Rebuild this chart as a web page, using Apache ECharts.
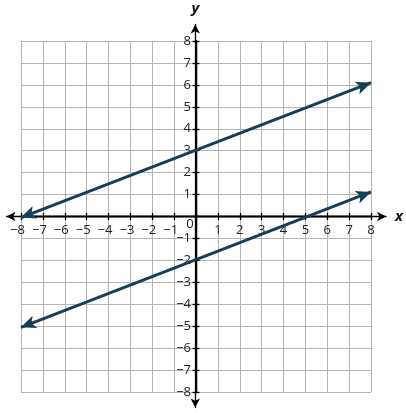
<!DOCTYPE html>
<html>
<head>
<meta charset="utf-8">
<script src="https://cdn.jsdelivr.net/npm/echarts@6/dist/echarts.min.js"></script>
<style>html,body{margin:0;padding:0;background:#fff}#c{width:406px;height:413px}</style>
</head>
<body>
<div id="c"></div>
<script>
// Data (arrow tip to arrow tip of each line)
var lineA = [[-8, -0.05], [8, 6.1]];
var lineB = [[-8, -5.05], [8, 1.12]];
var xTicksMin = -8, xTicksMax = 8;
var yTicksMin = -8, yTicksMax = 8;
var axisNames = ['x', 'y'];

var LINE_COLOR = '#163e57';
var FONT = '"Open Sans", "Noto Sans", sans-serif';

function xFmt(v) {
  if (v === 0) return '{z|0}';
  if (v < 0) return '{n|\u2212' + (-v) + '}';
  return String(v);
}
function yFmt(v) {
  if (v === 0) return '';
  if (v < 0) return '\u2212' + (-v);
  return String(v);
}

var chart = echarts.init(document.getElementById('c'), null, {renderer: 'canvas'});

function arrowLine(pts) {
  return {
    type: 'line',
    xAxisIndex: 0, yAxisIndex: 0,
    data: [],
    silent: true,
    markLine: {
      silent: true,
      animation: false,
      symbol: ['arrow', 'arrow'],
      symbolSize: [10, 15],
      label: {show: false},
      lineStyle: {color: LINE_COLOR, width: 3, type: 'solid', opacity: 1},
      emphasis: {disabled: true},
      data: [[{coord: pts[0]}, {coord: pts[1]}]]
    }
  };
}

// layout (pixels)
var G1 = {left: 21, right: 35, top: 41, bottom: 21};
var W = 406, H = 413;
var gw = W - G1.left - G1.right, gh = H - G1.top - G1.bottom;
var zeroX = G1.left + gw * (0 - xTicksMin) / (xTicksMax - xTicksMin);
var zeroY = G1.top + gh * (yTicksMax - 0) / (yTicksMax - yTicksMin);
var U = gw / (xTicksMax - xTicksMin);
var UY = gh / (yTicksMax - yTicksMin);
var G2 = {left: 6.5, right: 18.5, top: 24.5, bottom: 5.5};
var AX = {color: '#000', width: 1.3};

var offB = -((H - G1.bottom) - zeroY);
var offT = -(zeroY - G1.top);
var offL = -(zeroX - G1.left);
var offR = -((W - G1.right) - zeroX);

var option = {
  animation: false,
  grid: [
    {left: G1.left, right: G1.right, top: G1.top, bottom: G1.bottom, containLabel: false},
    {left: G2.left, right: G2.right, top: G2.top, bottom: G2.bottom, containLabel: false}
  ],
  xAxis: [
    {
      type: 'value', gridIndex: 0, position: 'bottom', offset: offB, min: xTicksMin, max: xTicksMax, interval: 1,
      axisLine: {show: true, onZero: false, lineStyle: AX},
      axisTick: {show: true, length: 3.5, lineStyle: AX},
      axisLabel: {
        show: true, margin: 7, formatter: xFmt, color: '#222', fontSize: 13, fontFamily: FONT,
        showMinLabel: true, showMaxLabel: true, hideOverlap: false,
        rich: {
          z: {padding: [0, 12, 0, 0], lineHeight: 1, fontSize: 13, fontFamily: FONT, color: '#222'},
          n: {padding: [0, 7, 0, 0], fontSize: 13, fontFamily: FONT, color: '#222'}
        }
      },
      splitLine: {show: true, lineStyle: {color: '#b4b4b4', width: 1}}
    },
    {
      type: 'value', gridIndex: 0, position: 'top', offset: offT, min: xTicksMin, max: xTicksMax, interval: 1,
      axisLine: {show: true, onZero: false, lineStyle: AX},
      axisTick: {show: true, length: 3.5, lineStyle: AX},
      axisLabel: {show: false},
      splitLine: {show: false}
    },
    {
      type: 'value', gridIndex: 1,
      min: -(zeroX - G2.left) / U, max: ((W - G2.right) - zeroX) / U,
      name: axisNames[0], nameLocation: 'end', nameGap: 9,
      nameTextStyle: {fontStyle: 'italic', fontWeight: 'bold', fontSize: 15, fontFamily: FONT, color: '#111', verticalAlign: 'middle'},
      axisLine: {show: true, onZero: true, symbol: ['arrow', 'arrow'], symbolSize: [7, 9], lineStyle: AX},
      axisTick: {show: false}, axisLabel: {show: false}, splitLine: {show: false}
    }
  ],
  yAxis: [
    {
      type: 'value', gridIndex: 0, position: 'left', offset: offL, min: yTicksMin, max: yTicksMax, interval: 1,
      axisLine: {show: true, onZero: false, lineStyle: AX},
      axisTick: {show: true, length: 3.5, lineStyle: AX},
      axisLabel: {show: true, margin: 5, formatter: yFmt, color: '#222', fontSize: 13, fontFamily: FONT,
        showMinLabel: true, showMaxLabel: true, hideOverlap: false},
      splitLine: {show: true, lineStyle: {color: '#b4b4b4', width: 1}}
    },
    {
      type: 'value', gridIndex: 0, position: 'right', offset: offR, min: yTicksMin, max: yTicksMax, interval: 1,
      axisLine: {show: true, onZero: false, lineStyle: AX},
      axisTick: {show: true, length: 3.5, lineStyle: AX},
      axisLabel: {show: false},
      splitLine: {show: false}
    },
    {
      type: 'value', gridIndex: 1,
      min: -((H - G2.bottom) - zeroY) / UY, max: (zeroY - G2.top) / UY,
      name: axisNames[1], nameLocation: 'end', nameGap: 8,
      nameTextStyle: {fontStyle: 'italic', fontWeight: 'bold', fontSize: 15, fontFamily: FONT, color: '#111'},
      axisLine: {show: true, onZero: true, symbol: ['arrow', 'arrow'], symbolSize: [7, 9], lineStyle: AX},
      axisTick: {show: false}, axisLabel: {show: false}, splitLine: {show: false}
    }
  ],
  series: [arrowLine(lineA), arrowLine(lineB)]
};
chart.setOption(option);
</script>
</body>
</html>
